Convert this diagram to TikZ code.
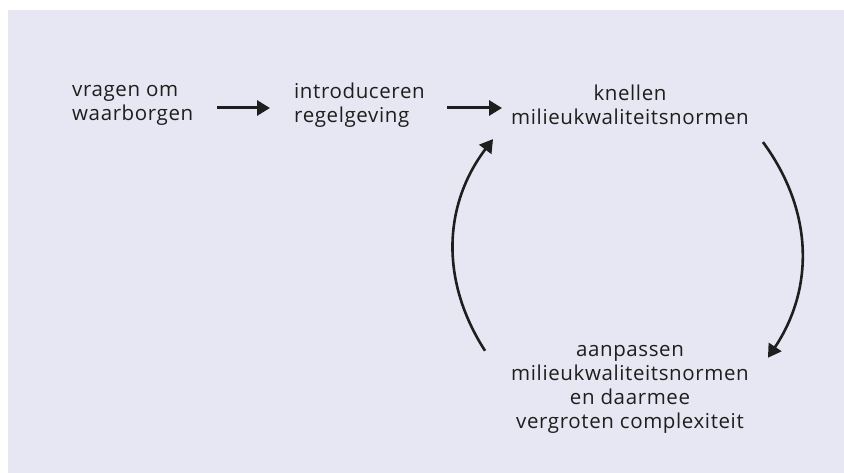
\documentclass[tikz,border=0pt]{standalone}
\usepackage{fontspec}
\setmainfont{Open Sans}
\newfontfamily\diagfont[LetterSpace=3]{Open Sans}
\usepackage{xcolor}
\usepackage{tikz}
\usetikzlibrary{arrows.meta,positioning,calc}
\definecolor{panelbg}{RGB}{231,231,243}
\definecolor{inkgray}{RGB}{30,30,30}
\tikzset{
  lbl/.style={font={\diagfont\fontsize{20.5}{24}\selectfont},text=inkgray,inner sep=0pt},
  flow/.style={->,draw=inkgray,line width=3pt},
  loopflow/.style={->,draw=inkgray,line width=2.6pt}
}

\begin{document}
\begin{tikzpicture}[x=1pt,y=-1pt,>={Triangle[length=13pt,width=15pt]}]
  \useasboundingbox (0,0) rectangle (844,473);
  \fill[panelbg] (8,10) rectangle (844,473);
  % chain of steps
  \node[lbl,anchor=west,align=left] (vragen) at (72,105) {vragen om\\waarborgen};
  \node[lbl,anchor=west,align=left] (intro) at (294,105) {introduceren\\regelgeving};
  \node[lbl,align=center] (knel) at (630,105) {knellen\\milieukwaliteitsnormen};
  \node[lbl,align=center] (aanpas) at (630,389) {aanpassen\\milieukwaliteitsnormen\\en daarmee\\vergroten complexiteit};
  \draw[flow] ($(vragen.east)+(24,3)$) -- ($(intro.west)+(-24,3)$);
  \draw[flow] ($(intro.east)+(22,3)$) -- ($(knel.west)+(-9,3)$);
  % the loop
  \draw[loopflow] ($(knel.south east)+(14,17)$) to[bend left=35] ($(aanpas.north east)+(19,13)$);
  \draw[loopflow] ($(aanpas.north west)+(-26,6)$) to[bend left=35] ($(knel.south west)+(-18,14)$);
\end{tikzpicture}
\end{document}
